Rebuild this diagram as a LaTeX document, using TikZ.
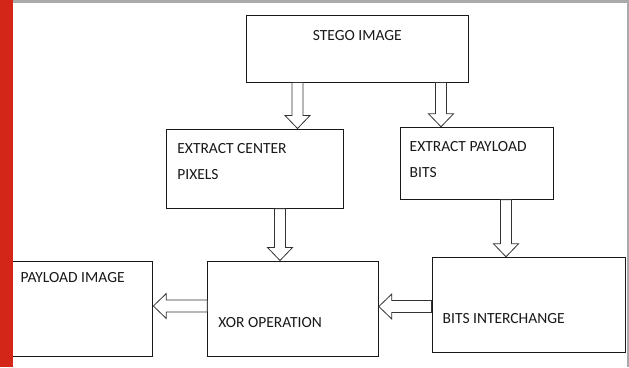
\documentclass[tikz,border=0pt]{standalone}
\usepackage{fontspec}
\setmainfont{Carlito}
\usetikzlibrary{calc}
\definecolor{barred}{RGB}{212,38,24}
\definecolor{framegray}{RGB}{170,170,170}
\newcommand\blockdown[2]{%
  \draw[blockarrow] let \p1=#1, \p2=#2 in
    (\x1-5.5pt,\y1) -- (\x1-5.5pt,\y2+13pt) -- (\x1-12.5pt,\y2+13pt) -- (\x2,\y2)
    -- (\x1+12.5pt,\y2+13pt) -- (\x1+5.5pt,\y2+13pt) -- (\x1+5.5pt,\y1) -- cycle;}
\newcommand\blockleft[2]{%
  \draw[blockarrow] let \p1=#1, \p2=#2 in
    (\x1,\y1+6pt) -- (\x2+13pt,\y1+6pt) -- (\x2+13pt,\y1+12.5pt) -- (\x2,\y2)
    -- (\x2+13pt,\y1-12.5pt) -- (\x2+13pt,\y1-6pt) -- (\x1,\y1-6pt) -- cycle;}
\begin{document}
\begin{tikzpicture}[x=1pt,y=-1pt,
  box/.style={draw=black!90,line width=1pt,minimum width=#1,inner sep=0pt},
  txt/.style={inner sep=0pt,font=\fontsize{15.5}{26.5}\selectfont,align=left,text=black!90},
  blockarrow/.style={draw=black!80,line width=0.8pt,fill=white,line join=miter}]
\useasboundingbox (0,0) rectangle (629,367);
\fill[white] (0,0) rectangle (629,367);
% boxes
\node[box=221.3pt,minimum height=67pt] (stego) at (357.35,48.5) {};
\node[box=177.3pt,minimum height=79.3pt] (ec) at (255.15,168.65) {};
\node[box=153.5pt,minimum height=72pt] (ep) at (476.75,163.3) {};
\node[box=142.8pt,minimum height=95pt] (pay) at (81.4,308.5) {};
\node[box=170.5pt,minimum height=95pt] (xor) at (293.05,308.5) {};
\node[box=193.7pt,minimum height=95pt] (bits) at (528.85,304.8) {};
% texts (base anchor = baseline of the last line)
\node[txt,anchor=base] (stegot) at ($(stego.north)+(0,25.5)$) {STEGO IMAGE};
\node[txt,anchor=base west] (ect) at ($(ec.north west)+(11.2,51)$) {EXTRACT CENTER\\PIXELS};
\node[txt,anchor=base west] (ept) at ($(ep.north west)+(10,51)$) {EXTRACT PAYLOAD\\BITS};
\node[txt,anchor=base west] (payt) at ($(pay.north west)+(11,22.3)$) {PAYLOAD IMAGE};
\node[txt,anchor=base west] (xort) at ($(xor.north west)+(10.8,66.7)$) {XOR OPERATION};
\node[txt,anchor=base west] (bitst) at ($(bits.north west)+(11,66.7)$) {BITS INTERCHANGE};
% arrow axes
\coordinate (a1) at (297.5,0);
\coordinate (a2) at (441,0);
\coordinate (a3) at (280,0);
\coordinate (a4) at (506,0);
\coordinate (a5) at (0,306);
\coordinate (a6) at (0,306.5);
\blockdown{(a1 |- stego.south)}{(a1 |- ec.north)}
\blockdown{(a2 |- stego.south)}{(a2 |- ep.north)}
\blockdown{(a3 |- ec.south)}{(a3 |- xor.north)}
\blockdown{(a4 |- ep.south)}{(a4 |- bits.north)}
\blockleft{(a5 -| xor.west)}{(a5 -| pay.east)}
\blockleft{(a6 -| bits.west)}{(a6 -| xor.east)}
% page frame
\fill[framegray] (12.5,0) rectangle (629,3);
\fill[framegray] (626.5,0) rectangle (629,367);
\fill[barred] (0,0) rectangle (12.5,367);
\end{tikzpicture}
\end{document}
